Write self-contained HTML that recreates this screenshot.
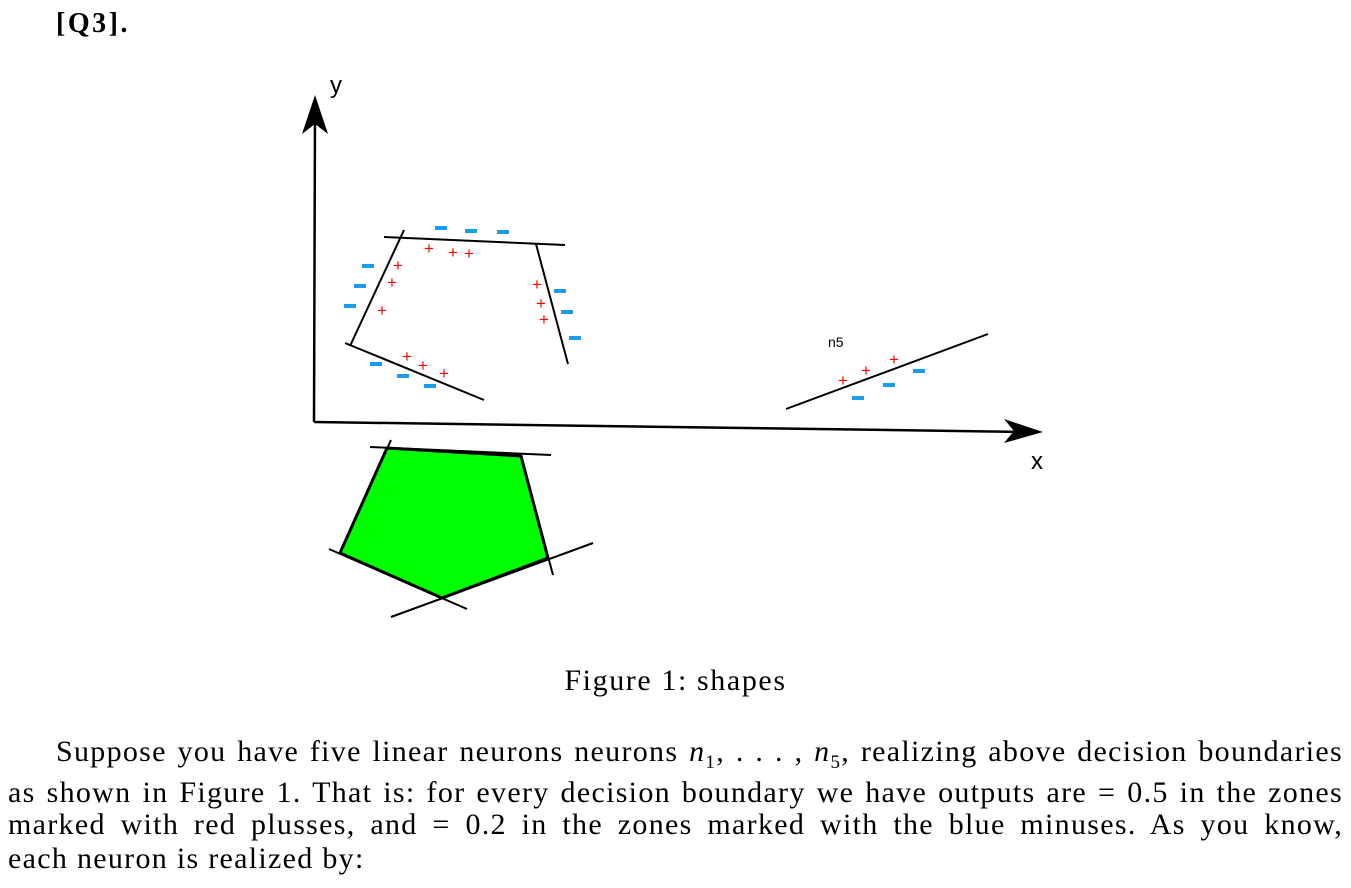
<!DOCTYPE html>
<html><head><meta charset="utf-8"><style>
body{margin:0;width:1351px;height:888px;background:#fff;overflow:hidden;font-family:"Liberation Serif",serif;color:#000}
#q{position:absolute;left:56px;top:8px;font-size:28px;font-weight:bold;letter-spacing:2.5px}
#fig{position:absolute;left:0;top:0}
#cap{position:absolute;left:0;width:1351px;text-align:center;top:664px;font-size:30px;letter-spacing:1.6px}
.ln{position:absolute;font-size:30px;letter-spacing:1.3px;white-space:nowrap;text-align:justify;text-align-last:justify;line-height:34px}
sub{font-size:19px;line-height:0}
</style></head><body>
<div id="q">[Q3].</div>
<svg id="fig" width="1351" height="660" font-family="Liberation Sans, sans-serif">
<g stroke="#000" stroke-width="2.5" fill="none">
<line x1="314" y1="422" x2="1030" y2="432"/>
<line x1="314" y1="422" x2="315" y2="110"/>
</g>
<polygon points="1043,432 1004,419 1014,431 1004,443" fill="#000"/>
<polygon points="315,95 302,134 315,124 328,134" fill="#000"/>
<text x="1031" y="469" font-size="24">x</text>
<text x="330" y="93" font-size="24">y</text>
<g stroke="#000" stroke-width="2">
<line x1="384" y1="237" x2="565" y2="245"/>
<line x1="404" y1="230" x2="350" y2="346"/>
<line x1="536" y1="244" x2="568" y2="364"/>
<line x1="345" y1="343" x2="484" y2="400"/>
<line x1="786" y1="409" x2="988" y2="334"/>
</g>
<text x="828" y="347" font-size="14">n5</text>
<g fill="#1a9cf0">
<rect x="435" y="226" width="12" height="4"/><rect x="465" y="229" width="12" height="4"/><rect x="497" y="230" width="12" height="4"/>
<rect x="362" y="264" width="12" height="4"/><rect x="354" y="284" width="12" height="4"/><rect x="344" y="304" width="12" height="4"/>
<rect x="554" y="289" width="12" height="4"/><rect x="561" y="310" width="12" height="4"/><rect x="569" y="336" width="12" height="4"/>
<rect x="370" y="362" width="12" height="4"/><rect x="397" y="374" width="12" height="4"/><rect x="424" y="384" width="12" height="4"/>
<rect x="852" y="396" width="12" height="4"/><rect x="883" y="383" width="12" height="4"/><rect x="913" y="369" width="12" height="4"/>
</g>
<g fill="#f00" font-size="17" text-anchor="middle">
<text x="429" y="254">+</text><text x="453" y="258">+</text><text x="469" y="259">+</text>
<text x="398" y="271">+</text><text x="392" y="288">+</text><text x="382" y="316">+</text>
<text x="537" y="290">+</text><text x="541" y="309">+</text><text x="544" y="325">+</text>
<text x="407" y="362">+</text><text x="423" y="371">+</text><text x="444" y="379">+</text>
<text x="843" y="386">+</text><text x="866" y="376">+</text><text x="894" y="365">+</text>
</g>
<polygon points="387,448 521,456 548,558 442,598 340,553" fill="#00ff00" stroke="#000" stroke-width="3"/>
<g stroke="#000" stroke-width="2">
<line x1="370" y1="447" x2="551" y2="455"/>
<line x1="391" y1="440" x2="340" y2="553"/>
<line x1="521" y1="456" x2="553" y2="575"/>
<line x1="593" y1="543" x2="391" y2="617"/>
<line x1="329" y1="549" x2="467" y2="609"/>
</g>
</svg>
<div id="cap">Figure 1: shapes</div>
<div>
<div class="ln" style="left:56px;width:1287px;top:735px">Suppose you have five linear neurons neurons <i>n</i><sub>1</sub>, . . . , <i>n</i><sub>5</sub>, realizing above decision boundaries</div>
<div class="ln" style="left:8px;width:1335px;top:776px">as shown in Figure 1. That is: for every decision boundary we have outputs are = 0.5 in the zones</div>
<div class="ln" style="left:8px;width:1335px;top:808px">marked with red plusses, and = 0.2 in the zones marked with the blue minuses. As you know,</div>
<div class="ln" style="left:8px;top:842px;text-align-last:left">each neuron is realized by:</div>
</div>
</body></html>
